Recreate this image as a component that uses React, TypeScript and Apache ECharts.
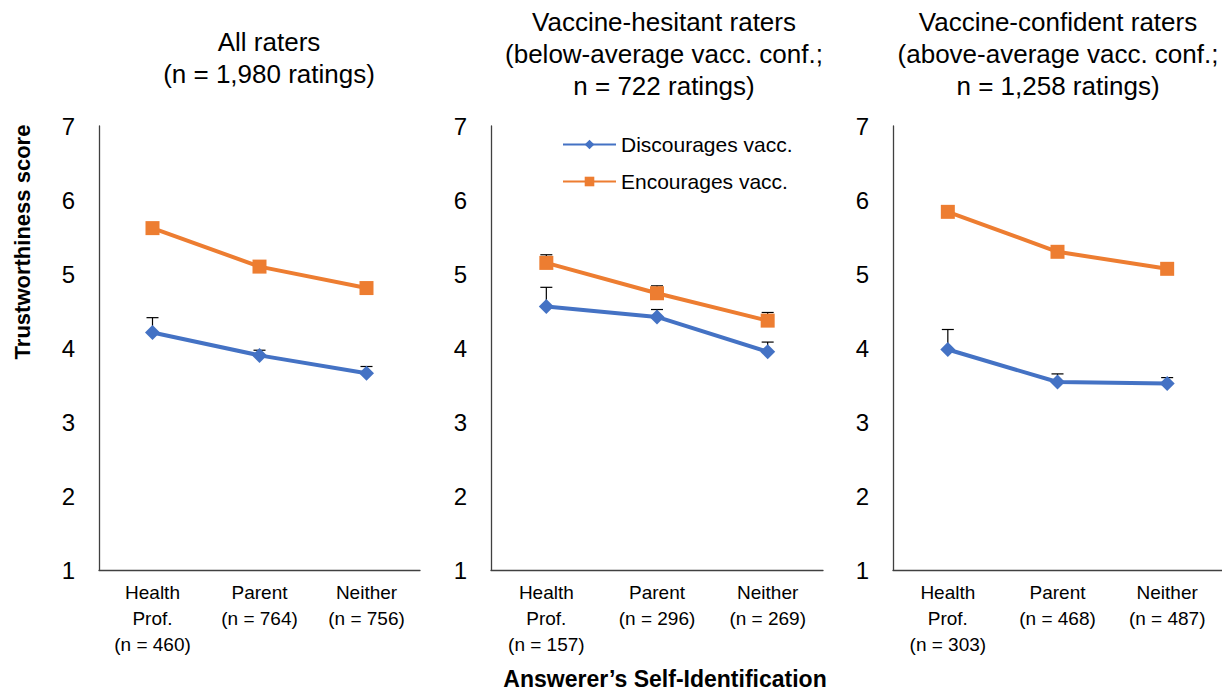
import React, { useEffect, useRef } from "react";
import * as echarts from "echarts";

const yTicks = [1, 2, 3, 4, 5, 6, 7];
const panelTitles = [
  "All raters\n(n = 1,980 ratings)",
  "Vaccine-hesitant raters\n(below-average vacc. conf.;\nn = 722 ratings)",
  "Vaccine-confident raters\n(above-average vacc. conf.;\nn = 1,258 ratings)",
];
const categoriesAll = ["Health\nProf.\n(n = 460)", "Parent\n(n = 764)", "Neither\n(n = 756)"];
const categoriesHes = ["Health\nProf.\n(n = 157)", "Parent\n(n = 296)", "Neither\n(n = 269)"];
const categoriesConf = ["Health\nProf.\n(n = 303)", "Parent\n(n = 468)", "Neither\n(n = 487)"];

const discouragesAll = [4.21, 3.9, 3.66];
const discouragesAllErr = [0.2, 0.07, 0.09];
const encouragesAll = [5.62, 5.1, 4.81];
const encouragesAllErr = [0.06, 0.05, 0.05];

const discouragesHes = [4.56, 4.42, 3.95];
const discouragesHesErr = [0.26, 0.1, 0.13];
const encouragesHes = [5.15, 4.74, 4.37];
const encouragesHesErr = [0.11, 0.1, 0.11];

const discouragesConf = [3.98, 3.54, 3.52];
const discouragesConfErr = [0.27, 0.11, 0.08];
const encouragesConf = [5.84, 5.3, 5.07];
const encouragesConfErr = [0.06, 0.05, 0.05];

const FONT = "Liberation Sans, Arial, sans-serif";
const BLUE = "#4472C4";
const ORANGE = "#ED7D31";

export default function App() {
  const ref = useRef<HTMLDivElement>(null);
  useEffect(() => {
    if (!ref.current) return;
    const chart = echarts.init(ref.current, undefined, { renderer: "svg" });

    const grids = [
      { left: 99, top: 126, width: 321, height: 444, titleX: 269, titleY: 26 },
      { left: 491, top: 126, width: 332, height: 444, titleX: 664, titleY: 6 },
      { left: 893, top: 126, width: 336, height: 444, titleX: 1058, titleY: 6 },
    ];
    const cats = [categoriesAll, categoriesHes, categoriesConf];
    const disc = [discouragesAll, discouragesHes, discouragesConf];
    const discErr = [discouragesAllErr, discouragesHesErr, discouragesConfErr];
    const enc = [encouragesAll, encouragesHes, encouragesConf];
    const encErr = [encouragesAllErr, encouragesHesErr, encouragesConfErr];

    const errorRender = (params: any, api: any) => {
      const x = api.value(0);
      const y = api.value(1);
      const e = api.value(2);
      const p0 = api.coord([x, y]);
      const p1 = api.coord([x, y + e]);
      const style = { stroke: "#000", lineWidth: 1.2 };
      return {
        type: "group",
        children: [
          { type: "line", shape: { x1: p0[0], y1: p0[1], x2: p1[0], y2: p1[1] }, style },
          { type: "line", shape: { x1: p1[0] - 6, y1: p1[1], x2: p1[0] + 6, y2: p1[1] }, style },
        ],
      };
    };

    const series: any[] = [];
    for (let i = 0; i < 3; i++) {
      series.push({
        type: "custom",
        xAxisIndex: i,
        yAxisIndex: i,
        z: 1,
        silent: true,
        renderItem: errorRender,
        data: disc[i].map((v, k) => [k, v, discErr[i][k]]),
      });
      series.push({
        type: "custom",
        xAxisIndex: i,
        yAxisIndex: i,
        z: 1,
        silent: true,
        renderItem: errorRender,
        data: enc[i].map((v, k) => [k, v, encErr[i][k]]),
      });
      series.push({
        name: "Discourages vacc.",
        type: "line",
        xAxisIndex: i,
        yAxisIndex: i,
        z: 3,
        data: disc[i],
        symbol: "diamond",
        symbolSize: 15,
        lineStyle: { color: BLUE, width: 4 },
        itemStyle: { color: BLUE },
      });
      series.push({
        name: "Encourages vacc.",
        type: "line",
        xAxisIndex: i,
        yAxisIndex: i,
        z: 3,
        data: enc[i],
        symbol: "rect",
        symbolSize: 14,
        lineStyle: { color: ORANGE, width: 4 },
        itemStyle: { color: ORANGE },
      });
    }

    const graphics: any[] = grids.map((g, i) => ({
      type: "text",
      x: g.titleX,
      y: g.titleY,
      style: {
        text: panelTitles[i],
        font: `26px ${FONT}`,
        lineHeight: 32,
        fill: "#000",
        textAlign: "center",
        textVerticalAlign: "top",
      },
    }));
    graphics.push({
      type: "text",
      x: 22,
      y: 242,
      rotation: Math.PI / 2,
      style: {
        text: "Trustworthiness score",
        font: `bold 22px ${FONT}`,
        fill: "#000",
        textAlign: "center",
        textVerticalAlign: "middle",
      },
    });
    graphics.push({
      type: "text",
      x: 665,
      y: 679,
      style: {
        text: "Answerer\u2019s Self-Identification",
        font: `bold 23px ${FONT}`,
        fill: "#000",
        textAlign: "center",
        textVerticalAlign: "middle",
      },
    });

    chart.setOption({
      animation: false,
      textStyle: { fontFamily: FONT },
      grid: grids.map((g) => ({ left: g.left, top: g.top, width: g.width, height: g.height })),
      xAxis: grids.map((g, i) => ({
        type: "category",
        gridIndex: i,
        data: cats[i],
        boundaryGap: true,
        axisLine: { show: true, lineStyle: { color: "#404040", width: 1.3 } },
        axisTick: { show: false },
        axisLabel: { color: "#000", fontSize: 19, lineHeight: 26, margin: 9, interval: 0, fontFamily: FONT },
        splitLine: { show: false },
      })),
      yAxis: grids.map((g, i) => ({
        type: "value",
        gridIndex: i,
        min: yTicks[0],
        max: yTicks[yTicks.length - 1],
        interval: 1,
        axisLine: { show: true, lineStyle: { color: "#404040", width: 1.3 } },
        axisTick: { show: false },
        axisLabel: { color: "#000", fontSize: 24, margin: 24, fontFamily: FONT },
        splitLine: { show: false },
      })),
      legend: {
        orient: "vertical",
        left: 557,
        top: 129,
        itemWidth: 53,
        itemHeight: 12,
        itemGap: 16,
        data: ["Discourages vacc.", "Encourages vacc."],
        textStyle: { color: "#000", fontSize: 21, fontFamily: FONT },
      },
      graphic: graphics,
      series,
    });

    return () => chart.dispose();
  }, []);

  return (
    <div
      ref={ref}
      style={{ position: "fixed", left: 0, top: 0, width: 1222, height: 692, background: "#fff" }}
    />
  );
}
